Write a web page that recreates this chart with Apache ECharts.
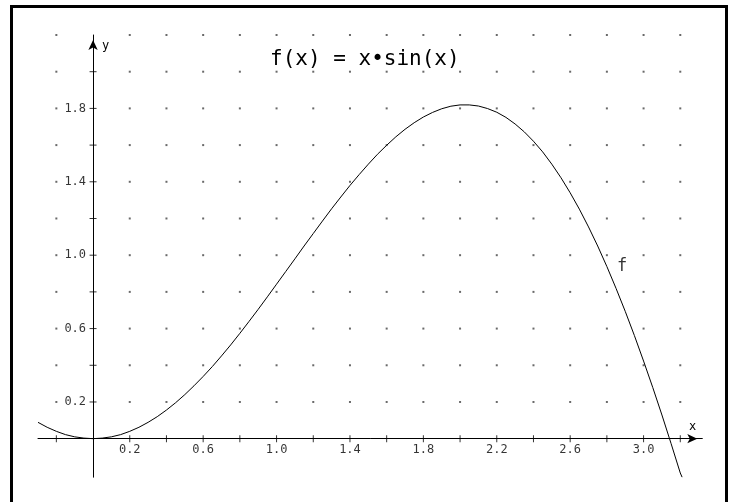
<!DOCTYPE html>
<html>
<head>
<meta charset="utf-8">
<script src="https://cdn.jsdelivr.net/npm/echarts@6/dist/echarts.min.js"></script>
<style>
html,body{margin:0;padding:0;background:#fff;}
#main{width:733px;height:502px;}
</style>
</head>
<body>
<div id="main"></div>
<script>
// curve f(x) = x*sin(x)
var curveX = [-0.3,-0.25,-0.2,-0.15,-0.1,-0.05,0,0.05,0.1,0.15,0.2,0.25,0.3,0.35,0.4,0.45,0.5,0.55,0.6,0.65,
	0.7,0.75,0.8,0.85,0.9,0.95,1.0,1.05,1.1,1.15,1.2,1.25,1.3,1.35,1.4,1.45,1.5,1.55,1.6,1.65,
	1.7,1.75,1.8,1.85,1.9,1.95,2.0,2.05,2.1,2.15,2.2,2.25,2.3,2.35,2.4,2.45,2.5,2.55,2.6,2.65,
	2.7,2.75,2.8,2.85,2.9,2.95,3.0,3.05,3.1,3.15,3.2,3.21];
var curveY = [0.089,0.062,0.040,0.022,0.010,0.003,0,0.003,0.010,0.022,0.040,0.062,0.089,0.120,0.156,0.196,0.240,0.288,0.339,0.393,
	0.451,0.511,0.574,0.639,0.705,0.773,0.842,0.911,0.980,1.050,1.118,1.186,1.253,1.317,1.380,1.439,1.496,1.550,1.599,1.645,
	1.686,1.722,1.753,1.778,1.798,1.812,1.819,1.819,1.813,1.799,1.779,1.751,1.715,1.672,1.621,1.563,1.496,1.422,1.340,1.251,
	1.154,1.050,0.938,0.819,0.694,0.562,0.423,0.279,0.129,-0.027,-0.187,-0.21];

var xTicks = [-0.2,0.2,0.4,0.6,0.8,1.0,1.2,1.4,1.6,1.8,2.0,2.2,2.4,2.6,2.8,3.0,3.2];
var xLabels = [0.2,0.6,1.0,1.4,1.8,2.2,2.6,3.0];
var yTicks = [0.2,0.4,0.6,0.8,1.0,1.2,1.4,1.6,1.8,2.0];
var yLabels = [0.2,0.6,1.0,1.4,1.8];
var dotCols = [-0.2,0.2,0.4,0.6,0.8,1.0,1.2,1.4,1.6,1.8,2.0,2.2,2.4,2.6,2.8,3.0,3.2];
var dotRows = [0.2,0.4,0.6,0.8,1.0,1.2,1.4,1.6,1.8,2.0,2.2];
var nameAt = 62; // index of the curve point where "f" is written

var mono = 'DejaVu Sans Mono';

var curve = [];
for (var i = 0; i < curveX.length; i++) {
	curve.push([curveX[i], curveY[i]]);
}

var dots = [];
for (var r = 0; r < dotRows.length; r++) {
	for (var c = 0; c < dotCols.length; c++) {
		dots.push([dotCols[c], dotRows[r]]);
	}
}

var xTickPts = xTicks.map(function(v){ return [v, 0]; });
var yTickPts = yTicks.map(function(v){ return [0, v]; });
var xLabelPts = xLabels.map(function(v){ return [v, 0]; });
var yLabelPts = yLabels.map(function(v){ return [0, v]; });

function labelSeries(data, pos, dist, size, fmt) {
	return {
		type: 'scatter',
		data: data,
		symbolSize: 0,
		silent: true,
		label: {show: true, position: pos, distance: dist, color: '#000',
			fontFamily: mono, fontSize: size, formatter: fmt}
	};
}

var myChart = echarts.init(document.getElementById('main'));
var option = {
	backgroundColor: '#fff',
	animation: false,
	title: {
		text: 'f(x) = x•sin(x)',
		left: 265,
		top: 44,
		textStyle: {fontFamily: mono, fontSize: 21, fontWeight: 'normal', color: '#000'}
	},
	grid: {left: 38, top: 35, width: 664.3, height: 442.2, containLabel: false},
	xAxis: {
		type: 'value',
		min: -0.3,
		max: 3.32,
		splitLine: {show: false},
		axisLine: {onZero: true, symbol: ['none', 'arrow'], symbolSize: [7, 10], symbolOffset: [0, -5],
			lineStyle: {color: '#000', width: 1}},
		axisTick: {show: false},
		axisLabel: {show: false}
	},
	yAxis: {
		type: 'value',
		min: -0.21,
		max: 2.2,
		splitLine: {show: false},
		axisLine: {onZero: true, symbol: ['none', 'arrow'], symbolSize: [7, 10], symbolOffset: [0, -5],
			lineStyle: {color: '#000', width: 1}},
		axisTick: {show: false},
		axisLabel: {show: false}
	},
	series: [
		{
			type: 'scatter',
			data: dots,
			symbol: 'rect',
			symbolSize: 2,
			itemStyle: {color: '#444'},
			silent: true
		},
		{
			type: 'scatter',
			data: xTickPts,
			symbol: 'rect',
			symbolSize: [1, 7],
			itemStyle: {color: '#000'},
			silent: true
		},
		{
			type: 'scatter',
			data: yTickPts,
			symbol: 'rect',
			symbolSize: [7, 1],
			itemStyle: {color: '#000'},
			silent: true
		},
		labelSeries(xLabelPts, 'bottom', 5, 12, function(p){ return p.value[0].toFixed(1); }),
		labelSeries(yLabelPts, 'left', 7, 12, function(p){ return p.value[1].toFixed(1); }),
		labelSeries([curve[nameAt]], 'right', 10, 17, function(){ return 'f'; }),
		{
			name: 'f',
			type: 'line',
			data: curve,
			showSymbol: false,
			lineStyle: {color: '#000', width: 1},
			z: 5
		}
	],
	graphic: [
		{type: 'text', left: 102, top: 40, style: {text: 'y', font: '12px "DejaVu Sans Mono"', fill: '#000'}},
		{type: 'text', left: 689, top: 421, style: {text: 'x', font: '12px "DejaVu Sans Mono"', fill: '#000'}},
		{type: 'rect', shape: {x: 11.5, y: 6.5, width: 715, height: 520},
			style: {fill: 'none', stroke: '#000', lineWidth: 3}, z: 100}
	]
};
myChart.setOption(option);
</script>
</body>
</html>
